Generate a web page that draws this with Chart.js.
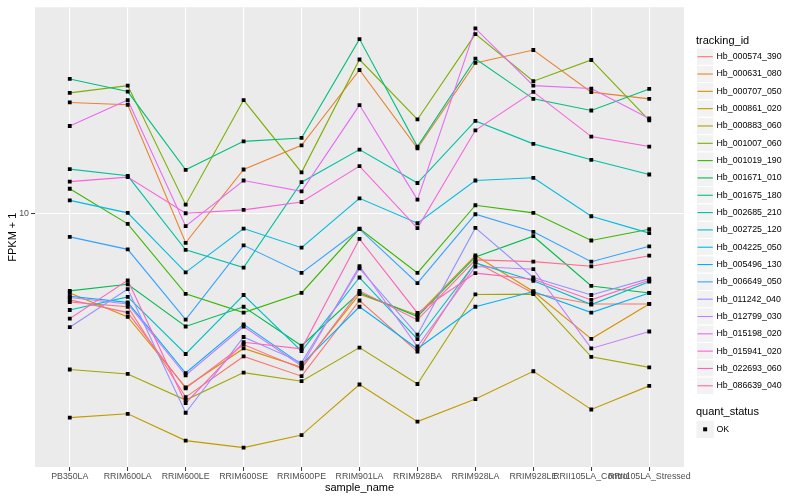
<!DOCTYPE html>
<html>
<head>
<meta charset="utf-8">
<script src="https://cdn.jsdelivr.net/npm/chart.js@4.4.1/dist/chart.umd.min.js"></script>
<style>
  html, body { margin: 0; padding: 0; background: #fff; }
</style>
</head>
<body>
<canvas id="chart-fpkm" width="800" height="500"></canvas>
<script>
const samples = ['PB350LA', 'RRIM600LA', 'RRIM600LE', 'RRIM600SE', 'RRIM600PE', 'RRIM901LA',
  'RRIM928BA', 'RRIM928LA', 'RRIM928LE', 'RRII105LA_Control', 'RRII105LA_Stressed'];

const genes = ['Hb_000574_390', 'Hb_000631_080', 'Hb_000707_050', 'Hb_000861_020', 'Hb_000883_060',
  'Hb_001007_060', 'Hb_001019_190', 'Hb_001671_010', 'Hb_001675_180', 'Hb_002685_210',
  'Hb_002725_120', 'Hb_004225_050', 'Hb_005496_130', 'Hb_006649_050', 'Hb_011242_040',
  'Hb_012799_030', 'Hb_015198_020', 'Hb_015941_020', 'Hb_022693_060', 'Hb_086639_040'];

// ggplot default hue palette, 20 levels
const colors = ['#F8766D', '#EA8331', '#D89000', '#C09B00', '#A3A500', '#7CAE00', '#39B600', '#00BB4E',
  '#00BF7D', '#00C1A3', '#00BFC4', '#00BAE0', '#00B0F6', '#35A2FF', '#9590FF', '#C77CFF',
  '#E76BF3', '#FA62DB', '#FF62BC', '#FF6C91'];

// FPKM + 1 per sample, same order as samples
const hb000574_390 = [6.40, 6.25, 3.97, 4.87, 4.41, 6.45, 4.99, 7.83, 6.69, 6.34, 6.34];
const hb000631_080 = [17.45, 17.25, 8.62, 12.46, 14.07, 20.54, 13.86, 21.28, 22.71, 18.38, 17.77];
const hb000707_050 = [6.70, 5.94, 4.17, 5.07, 4.61, 6.66, 6.00, 8.09, 6.75, 5.32, 6.34];
const hb000861_020 = [3.58, 3.65, 3.19, 3.08, 3.28, 4.23, 3.51, 3.93, 4.52, 3.73, 4.20];
const hb000883_060 = [4.56, 4.46, 3.91, 4.49, 4.30, 5.09, 4.24, 6.65, 6.66, 4.86, 4.61];
const hb001007_060 = [18.31, 18.99, 10.44, 17.66, 12.28, 21.65, 16.02, 24.60, 19.42, 21.60, 15.94];
const hb001019_190 = [11.31, 9.48, 6.67, 6.07, 6.70, 9.26, 7.41, 10.41, 10.02, 8.72, 9.23];
const hb001671_010 = [6.77, 7.00, 5.66, 6.25, 5.14, 6.71, 5.95, 8.03, 8.91, 6.94, 6.70];
const hb001675_180 = [19.64, 18.43, 12.44, 14.35, 14.60, 23.99, 13.98, 21.74, 17.77, 16.76, 18.68];
const hb002685_210 = [12.48, 12.07, 8.32, 7.61, 11.69, 13.77, 11.64, 15.90, 14.17, 13.08, 12.15];
const hb002725_120 = [6.15, 6.57, 4.93, 6.63, 5.00, 7.24, 5.31, 7.79, 7.12, 6.32, 7.09];
const hb004225_050 = [10.67, 10.02, 7.43, 9.26, 8.41, 10.78, 9.51, 11.79, 11.95, 9.85, 9.05];
const hb005496_130 = [6.59, 6.39, 4.48, 5.72, 4.68, 6.25, 5.06, 6.25, 6.75, 6.07, 6.70];
const hb006649_050 = [8.88, 8.34, 5.86, 8.51, 7.41, 9.23, 7.04, 9.95, 9.11, 7.84, 8.47];
const hb011242_040 = [5.64, 6.83, 3.67, 5.37, 4.72, 7.58, 5.43, 9.29, 7.24, 6.63, 7.20];
const hb012799_030 = [6.55, 6.34, 4.43, 5.66, 4.64, 7.67, 5.12, 7.65, 7.55, 5.07, 5.52];
const hb015198_020 = [15.50, 17.66, 9.37, 11.79, 11.16, 17.22, 10.71, 25.31, 18.99, 18.71, 16.10];
const hb015941_020 = [11.72, 11.99, 10.00, 10.17, 10.58, 12.67, 9.28, 15.17, 18.40, 14.70, 13.98];
const hb022693_060 = [5.89, 7.14, 3.85, 5.23, 5.06, 8.79, 6.06, 7.40, 7.18, 6.47, 7.14];
const hb086639_040 = [6.47, 6.07, 4.15, 5.17, 4.58, 6.77, 5.85, 7.91, 7.84, 7.66, 8.08];

const series = [hb000574_390, hb000631_080, hb000707_050, hb000861_020, hb000883_060,
  hb001007_060, hb001019_190, hb001671_010, hb001675_180, hb002685_210,
  hb002725_120, hb004225_050, hb005496_130, hb006649_050, hb011242_040,
  hb012799_030, hb015198_020, hb015941_020, hb022693_060, hb086639_040];

const yTicks = [10];
const yMin = 2.794, yMax = 28.15;

const FONT = '"Liberation Sans", Arial, Helvetica, sans-serif';

const toPoints = vals => vals.map((v, i) => ({x: i, y: v}));

// points first (drawn on top), then lines reversed so the last gene ends up on top
const pointSets = series.map((vals, i) => ({
  label: genes[i] + ' OK',
  data: toPoints(vals),
  showLine: false,
  pointStyle: 'rect',
  pointRadius: 2.7,
  pointBackgroundColor: '#000000',
  pointBorderColor: '#000000',
  pointBorderWidth: 0
}));
const lineSets = series.map((vals, i) => ({
  label: genes[i],
  data: toPoints(vals),
  borderColor: colors[i],
  borderWidth: 1.1,
  pointRadius: 0,
  fill: false,
  tension: 0
})).reverse();

const panelBg = {
  id: 'panelBg',
  beforeDraw(chart) {
    const {ctx, chartArea: a} = chart;
    ctx.save();
    ctx.fillStyle = '#EBEBEB';
    ctx.fillRect(a.left, a.top, a.right - a.left, a.bottom - a.top);
    ctx.restore();
  }
};

const ggLegend = {
  id: 'ggLegend',
  afterDraw(chart) {
    const ctx = chart.ctx;
    const x0 = 696.5, step = 17.32, key = 17.3;
    ctx.save();
    ctx.textAlign = 'left';
    ctx.textBaseline = 'middle';
    ctx.fillStyle = '#000';
    ctx.font = '11px ' + FONT;
    ctx.fillText('tracking_id', 696, 40.5);
    ctx.font = '8.8px ' + FONT;
    genes.forEach((g, i) => {
      const cy = 56.7 + i * step;
      ctx.fillStyle = '#F2F2F2';
      ctx.fillRect(x0, cy - key / 2, key, key);
      ctx.strokeStyle = '#FFFFFF';
      ctx.lineWidth = 1;
      ctx.strokeRect(x0, cy - key / 2, key, key);
      ctx.strokeStyle = colors[i];
      ctx.lineWidth = 1.1;
      ctx.beginPath();
      ctx.moveTo(x0 + 1, cy);
      ctx.lineTo(x0 + key - 1, cy);
      ctx.stroke();
      ctx.fillStyle = '#000';
      ctx.fillText(g, 716.5, cy);
    });
    ctx.font = '11px ' + FONT;
    ctx.fillText('quant_status', 696, 411.7);
    const cy = 429.3;
    ctx.fillStyle = '#F2F2F2';
    ctx.fillRect(x0, cy - key / 2, key, key);
    ctx.fillStyle = '#000';
    ctx.fillRect(x0 + key / 2 - 2, cy - 2, 4, 4);
    ctx.font = '8.8px ' + FONT;
    ctx.fillText('OK', 716.5, cy);
    ctx.restore();
  }
};

const ctx = document.getElementById('chart-fpkm').getContext('2d');

const myChart = new Chart(ctx, {
  type: 'line',
  data: {
    datasets: [...pointSets, ...lineSets]
  },
  plugins: [panelBg, ggLegend],
  options: {
    responsive: false,
    animation: false,
    layout: {
      padding: {left: 0, right: 116, top: 5, bottom: 0}
    },
    scales: {
      x: {
        type: 'linear',
        min: -0.6,
        max: 10.6,
        afterBuildTicks: scale => { scale.ticks = samples.map((s, i) => ({value: i})); },
        afterFit: scale => { scale.height = 33; },
        ticks: {
          callback: v => samples[v],
          autoSkip: false,
          maxRotation: 0,
          minRotation: 0,
          padding: 0.5,
          color: '#4D4D4D',
          font: {family: FONT, size: 8.8}
        },
        grid: {
          color: '#FFFFFF',
          lineWidth: 1.1,
          tickColor: '#333333',
          tickLength: 4,
          tickWidth: 1
        },
        border: {display: false},
        title: {
          display: true,
          text: 'sample_name',
          color: '#000',
          font: {family: FONT, size: 11},
          padding: {top: 0, bottom: 5.4}
        }
      },
      y: {
        type: 'logarithmic',
        min: yMin,
        max: yMax,
        afterBuildTicks: scale => { scale.ticks = yTicks.map(v => ({value: v})); },
        afterFit: scale => { scale.width = 35; },
        ticks: {
          callback: v => String(v),
          padding: 2,
          color: '#4D4D4D',
          font: {family: FONT, size: 8.8}
        },
        grid: {
          color: '#FFFFFF',
          lineWidth: 1.1,
          tickColor: '#333333',
          tickLength: 4,
          tickWidth: 1
        },
        border: {display: false},
        title: {
          display: true,
          text: 'FPKM + 1',
          color: '#000',
          font: {family: FONT, size: 11},
          padding: {top: 6.4, bottom: 0}
        }
      }
    },
    plugins: {
      legend: {display: false},
      tooltip: {enabled: false}
    }
  }
});
</script>
</body>
</html>
